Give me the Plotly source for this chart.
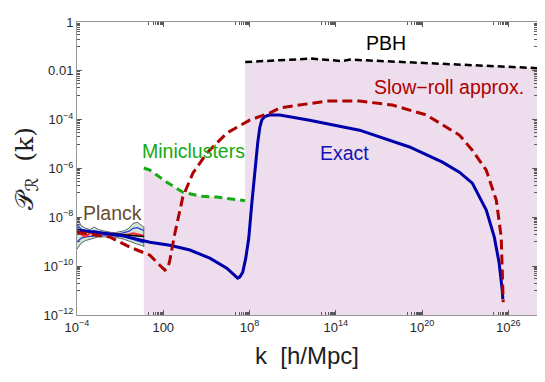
import plotly.graph_objects as go

# ---------------- data (log10 values) ----------------
# Exact (blue solid)
exact_logk = [-4.0, -1.0, 1.07, 2.46, 3.85, 5.24, 6.42, 6.95, 7.18, 7.32, 7.53, 7.74,
              7.95, 8.15, 8.36, 8.57, 8.71, 8.85, 9.06, 9.40, 10.1, 12.18, 15.65,
              19.13, 21.42, 22.6, 23.5, 24.47, 25.03, 25.37, 25.58, 25.62]
exact_logP = [-8.52, -8.73, -9.02, -9.14, -9.34, -9.67, -10.08, -10.37, -10.49, -10.45,
              -10.25, -9.67, -8.85, -7.50, -6.15, -4.96, -4.34, -4.02, -3.87, -3.81,
              -3.81, -4.02, -4.43, -5.12, -5.74, -6.15, -6.60, -7.70, -8.81, -9.88,
              -10.98, -11.35]

# Slow-roll approximation (dark red dashed)
sr_logk = [-4.0, -1.71, -0.32, 1.07, 1.76, 2.11, 2.32, 2.46, 2.81, 3.36, 4.06, 5.03,
           6.42, 8.01, 9.40, 10.1, 13.36, 15.65, 17.94, 20.31, 22.6, 23.5, 24.47,
           25.17, 25.51, 25.58, 25.65]
sr_logP = [-8.61, -8.81, -9.22, -9.55, -9.96, -10.16, -10.08, -9.75, -8.65, -7.17,
           -6.19, -5.37, -4.55, -4.02, -3.73, -3.52, -3.24, -3.24, -3.40, -3.81,
           -4.63, -5.25, -6.07, -7.30, -8.81, -10.04, -11.48]

# Miniclusters bound (green dashed)
mc_logk = [0.65, 1.07, 2.25, 3.36, 4.54, 5.72, 7.70]
mc_logP = [-5.98, -6.07, -6.56, -6.97, -7.13, -7.17, -7.32]

# PBH bound (black dashed)
pbh_logk = [7.70, 10.1, 12.32, 13.57, 14.47, 15.0, 18.43, 21.9, 28.0]
pbh_logP = [-1.64, -1.56, -1.50, -1.56, -1.60, -1.54, -1.64, -1.72, -1.89]

# Planck constraints
pl_logk = [-4.0, -3.7, -3.4, -3.1, -2.8, -2.5, -2.2, -1.9, -1.6, -1.3, -1.0, -0.7,
           -0.4, -0.1, 0.2, 0.5, 0.65]
pl_out_hi = [-8.0, -8.35, -8.45, -8.5, -8.4, -8.5, -8.55, -8.6, -8.62, -8.62, -8.6,
             -8.55, -8.45, -8.25, -8.2, -8.35, -8.4]
pl_out_lo = [-9.3, -9.05, -8.95, -8.9, -8.85, -8.8, -8.8, -8.8, -8.8, -8.82, -8.85,
             -8.9, -8.97, -9.05, -9.1, -9.15, -9.2]
pl_in_hi = [-8.3, -8.5, -8.55, -8.6, -8.55, -8.6, -8.63, -8.66, -8.68, -8.68, -8.67,
            -8.63, -8.58, -8.45, -8.42, -8.5, -8.55]
pl_in_lo = [-9.0, -8.85, -8.8, -8.78, -8.75, -8.74, -8.73, -8.73, -8.74, -8.76, -8.78,
            -8.8, -8.85, -8.9, -8.95, -9.0, -9.05]
pl_mid = [-8.55, -8.7, -8.8, -8.65, -8.62, -8.65, -8.68, -8.7, -8.71, -8.72, -8.72,
          -8.7, -8.7, -8.65, -8.7, -8.72, -8.75]
pl_fit_logk = [-4.0, 0.65]
pl_fit_logP = [-8.55, -8.78]

x_tick_exp = [-4, 2, 8, 14, 20, 26]
x_tick_text = ["10<sup>−4</sup>", "100", "10<sup>8</sup>", "10<sup>14</sup>",
               "10<sup>20</sup>", "10<sup>26</sup>"]
y_tick_exp = [0, -2, -4, -6, -8, -10, -12]
y_tick_text = ["1", "0.01", "10<sup>−4</sup>", "10<sup>−6</sup>", "10<sup>−8</sup>",
               "10<sup>−10</sup>", "10<sup>−12</sup>"]

X_MIN, X_MAX, Y_MIN, Y_MAX = -4, 28, -12, 0


def p(v):
    return [10.0 ** a for a in v]


fig = go.Figure()

# excluded region shading
sh_x = p(mc_logk) + p(pbh_logk) + [10.0 ** X_MAX, 10.0 ** mc_logk[0]]
sh_y = p(mc_logP) + p(pbh_logP) + [10.0 ** Y_MIN, 10.0 ** Y_MIN]
fig.add_trace(go.Scatter(x=sh_x, y=sh_y, mode="lines", fill="toself",
                         fillcolor="rgb(237,221,237)", line=dict(width=0),
                         hoverinfo="skip"))

# Planck band
fig.add_trace(go.Scatter(x=p(pl_logk) + p(pl_logk)[::-1],
                         y=p(pl_out_hi) + p(pl_out_lo)[::-1],
                         mode="lines", fill="toself", fillcolor="rgb(210,228,214)",
                         line=dict(color="rgb(90,100,95)", width=1)))
for arr in (pl_in_hi, pl_in_lo):
    fig.add_trace(go.Scatter(x=p(pl_logk), y=p(arr), mode="lines",
                             line=dict(color="rgb(40,60,220)", width=1.3)))
fig.add_trace(go.Scatter(x=p(pl_logk), y=p(pl_mid), mode="lines",
                         line=dict(color="rgb(255,40,40)", width=2)))
fig.add_trace(go.Scatter(x=p(pl_fit_logk), y=p(pl_fit_logP), mode="lines",
                         line=dict(color="black", width=1.5)))

# bounds
fig.add_trace(go.Scatter(x=p(mc_logk), y=p(mc_logP), mode="lines",
                         line=dict(color="rgb(20,170,20)", width=3, dash="8px,5px")))
fig.add_trace(go.Scatter(x=p(pbh_logk), y=p(pbh_logP), mode="lines",
                         line=dict(color="black", width=2.5, dash="7px,4px")))

# spectra
fig.add_trace(go.Scatter(x=p(exact_logk), y=p(exact_logP), mode="lines",
                         line=dict(color="rgb(0,0,170)", width=3)))
fig.add_trace(go.Scatter(x=p(sr_logk), y=p(sr_logP), mode="lines",
                         line=dict(color="rgb(175,0,0)", width=3, dash="10px,5px")))

x_minor = [k * 10.0 ** (n - 1) for n in x_tick_exp for k in range(1, 10)]
y_minor = [k * 10.0 ** (n - 1) for n in y_tick_exp for k in range(1, 10)]

axis_common = dict(type="log", showgrid=False, zeroline=False, showline=True,
                   linecolor="rgb(150,150,150)", linewidth=1, mirror="allticks",
                   ticks="inside", ticklen=5, tickwidth=1, tickcolor="rgb(90,90,90)",
                   tickfont=dict(family="Liberation Sans, Arial", size=13,
                                 color="rgb(40,40,40)"),
                   tickmode="array", automargin=False)

fig.update_xaxes(**axis_common, range=[X_MIN, X_MAX],
                 tickvals=[10.0 ** n for n in x_tick_exp], ticktext=x_tick_text,
                 minor=dict(tickmode="array", tickvals=x_minor, ticks="inside",
                            ticklen=3, tickcolor="rgb(90,90,90)"))
fig.update_yaxes(**axis_common, range=[Y_MIN, Y_MAX],
                 tickvals=[10.0 ** n for n in y_tick_exp], ticktext=y_tick_text,
                 minor=dict(tickmode="array", tickvals=y_minor, ticks="inside",
                            ticklen=3, tickcolor="rgb(90,90,90)"))

font = "Liberation Sans, Arial"
ann = [
    dict(x=-1.5, y=-7.83, text="Planck", color="rgb(105,75,45)"),
    dict(x=4.12, y=-5.29, text="Miniclusters", color="rgb(20,170,20)"),
    dict(x=14.6, y=-5.37, text="Exact", color="rgb(20,20,180)"),
    dict(x=17.53, y=-0.86, text="PBH", color="black"),
    dict(x=21.9, y=-2.66, text="Slow−roll approx.", color="rgb(175,0,0)"),
]
for a in ann:
    fig.add_annotation(x=a["x"], y=a["y"], xref="x", yref="y", text=a["text"],
                       showarrow=False, xanchor="center", yanchor="middle",
                       font=dict(family=font, size=19.5, color=a["color"]))

fig.add_annotation(xref="paper", yref="paper", x=-0.113, y=0.5,
                   text="𝒫<sub>ℛ</sub>  (k)", textangle=-90, showarrow=False,
                   xanchor="center", yanchor="middle",
                   font=dict(family="DejaVu Serif, DejaVu Sans", size=25, color="rgb(30,30,30)"))
fig.add_annotation(xref="paper", yref="paper", x=0.5, y=-0.137, text="k  [h/Mpc]",
                   showarrow=False, xanchor="center", yanchor="middle",
                   font=dict(family=font, size=24, color="rgb(30,30,30)"))

# page body has an 8px margin, so the figure is sized to end at the window edge
fig.update_layout(width=537, height=374, showlegend=False,
                  margin=dict(l=69, r=8, t=14, b=67, autoexpand=False),
                  paper_bgcolor="white", plot_bgcolor="white")

fig.write_html("out.html")
